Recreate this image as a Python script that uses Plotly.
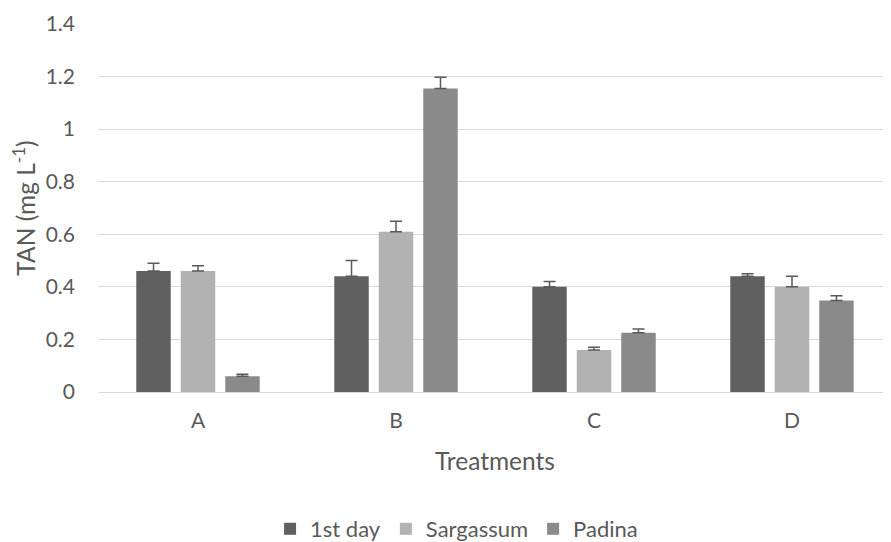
import plotly.graph_objects as go

categories = ["A", "B", "C", "D"]
series_names = ["1st day", "Sargassum", "Padina"]
first_day = [0.46, 0.44, 0.40, 0.44]
first_day_err = [0.03, 0.06, 0.02, 0.01]
sargassum = [0.46, 0.61, 0.16, 0.40]
sargassum_err = [0.02, 0.04, 0.01, 0.04]
padina = [0.06, 1.155, 0.225, 0.348]
padina_err = [0.008, 0.042, 0.015, 0.018]
y_ticks = [0, 0.2, 0.4, 0.6, 0.8, 1.0, 1.2, 1.4]
y_tick_labels = ["0", "0.2", "0.4", "0.6", "0.8", "1", "1.2", "1.4"]

colors = ["#606060", "#b2b2b2", "#8a8a8a"]
values = [first_day, sargassum, padina]
errors = [first_day_err, sargassum_err, padina_err]

fig = go.Figure()
for name, vals, errs, col in zip(series_names, values, errors, colors):
    fig.add_trace(go.Bar(
        x=categories, y=vals, name=name,
        marker=dict(color=col, line=dict(width=0)),
        error_y=dict(type="data", array=errs, symmetric=False, arrayminus=[0]*len(errs),
                     color="#595959", thickness=1.5, width=6),
    ))

# page body has an 8px default margin, so the figure is 8px smaller than the window
font_family = "Lato, Open Sans, sans-serif"
fig.update_layout(
    width=883, height=534,
    margin=dict(l=91, r=0, t=16, b=150, autoexpand=False),
    paper_bgcolor="white", plot_bgcolor="white",
    barmode="group", bargap=0.326, bargroupgap=0.225,
    font=dict(family=font_family, color="#595959", size=21),
    showlegend=True,
    legend=dict(orientation="h", xref="container", x=0.508, xanchor="center",
                yref="container", y=13 / 534, yanchor="middle",
                font=dict(size=22, color="#595959"), traceorder="normal"),
    xaxis=dict(
        showgrid=False, showline=False, zeroline=False,
        tickfont=dict(size=21, color="#595959"),
        ticklabelstandoff=14,
        title=dict(text="Treatments", font=dict(size=24.5, color="#595959"), standoff=21),
    ),
    yaxis=dict(
        range=[0, 1.4], tickvals=y_ticks, ticktext=y_tick_labels,
        showgrid=True, gridcolor="#d9d9d9", gridwidth=1.3,
        zeroline=True, zerolinecolor="#d9d9d9", zerolinewidth=1.3,
        showline=False,
        tickfont=dict(size=21, color="#595959"),
        ticklabelstandoff=23,
        title=dict(text="TAN (mg L<sup>-1</sup>)", font=dict(size=24.5, color="#595959"), standoff=12),
    ),
)

fig.write_html("out.html")
